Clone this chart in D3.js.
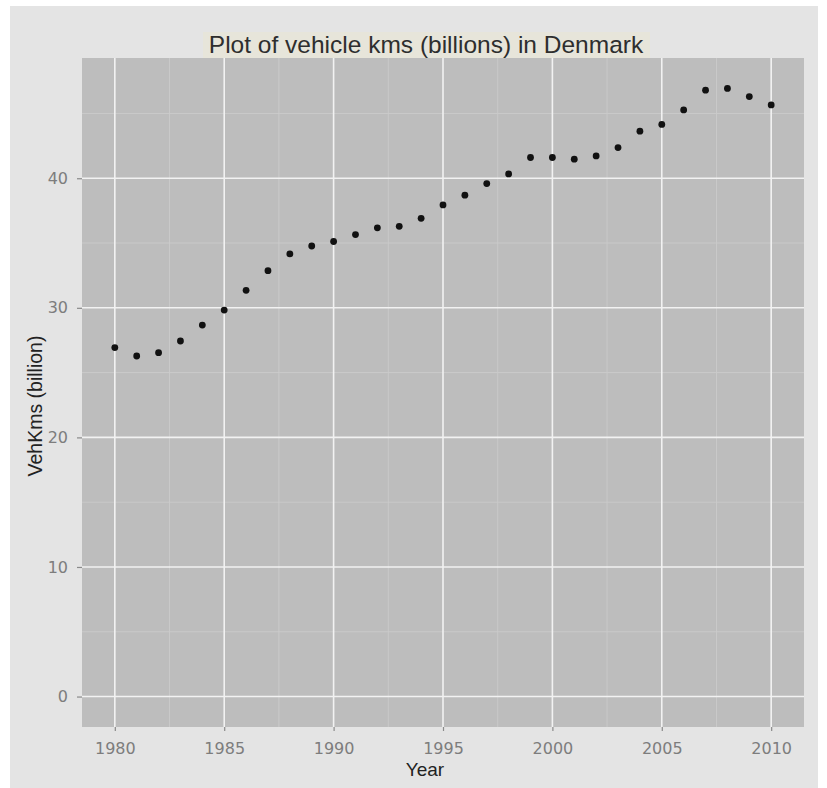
<!DOCTYPE html>
<html><head><meta charset="utf-8">
<script src="https://cdn.jsdelivr.net/npm/d3@7"></script>
<style>body{margin:0;background:#fff}svg{display:block}</style>
</head><body>
<svg id="c" width="827" height="788"></svg>
<script>
const years = [1980,1981,1982,1983,1984,1985,1986,1987,1988,1989,1990,1991,1992,1993,1994,1995,1996,1997,1998,1999,2000,2001,2002,2003,2004,2005,2006,2007,2008,2009,2010];
const vehKms = [26.93,26.28,26.54,27.44,28.67,29.83,31.35,32.87,34.16,34.77,35.12,35.65,36.17,36.29,36.91,37.94,38.69,39.59,40.33,41.6,41.6,41.47,41.72,42.37,43.63,44.15,45.27,46.8,46.93,46.3,45.66];
const xTicks = [1980,1985,1990,1995,2000,2005,2010];
const xMinor = [1982.5,1987.5,1992.5,1997.5,2002.5,2007.5];
const yTicks = [0,10,20,30,40];
const yMinor = [5,15,25,35,45];
const title = "Plot of vehicle kms (billions) in Denmark";
const xLabel = "Year";
const yLabel = "VehKms (billion)";

const svg = d3.select("#c");
const font = "'Liberation Sans', Arial, sans-serif";
const tickFont = "'DejaVu Sans', sans-serif";
const P = {l:82, r:804, t:58, b:727};

svg.append("rect").attr("x",10).attr("y",6).attr("width",808).attr("height",782).attr("fill","#e4e4e4");

const x = d3.scaleLinear().domain([1978.5, 2011.5]).range([P.l, P.r]);
const y = d3.scaleLinear().domain([-2.35, 49.28]).range([P.b, P.t]);

// title box + title
svg.append("rect").attr("x",203).attr("y",32).attr("width",447).attr("height",26).attr("fill","#e7e5da");
svg.append("text").attr("x",426).attr("y",53).attr("text-anchor","middle")
  .attr("font-family",font).attr("font-size",24.5).attr("fill","#2e2e2e").text(title);

// panel
svg.append("rect").attr("x",P.l).attr("y",P.t).attr("width",P.r-P.l).attr("height",P.b-P.t).attr("fill","#bdbdbd");

const g = svg.append("g");
g.selectAll(".ymin").data(yMinor).join("line").attr("x1",P.l).attr("x2",P.r)
  .attr("y1",d=>y(d)).attr("y2",d=>y(d)).attr("stroke","#cbcbcb").attr("stroke-width",0.9);
g.selectAll(".xmin").data(xMinor).join("line").attr("y1",P.t).attr("y2",P.b)
  .attr("x1",d=>x(d)).attr("x2",d=>x(d)).attr("stroke","#cbcbcb").attr("stroke-width",0.9);
g.selectAll(".ymaj").data(yTicks).join("line").attr("x1",P.l).attr("x2",P.r)
  .attr("y1",d=>y(d)).attr("y2",d=>y(d)).attr("stroke","#f2f2f2").attr("stroke-width",1.6);
g.selectAll(".xmaj").data(xTicks).join("line").attr("y1",P.t).attr("y2",P.b)
  .attr("x1",d=>x(d)).attr("x2",d=>x(d)).attr("stroke","#f2f2f2").attr("stroke-width",1.6);

// axes
const xAxis = svg.append("g").attr("transform",`translate(0,${P.b})`)
  .call(d3.axisBottom(x).tickValues(xTicks).tickFormat(d3.format("d")).tickSize(4).tickPadding(5));
const yAxis = svg.append("g").attr("transform",`translate(${P.l},0)`)
  .call(d3.axisLeft(y).tickValues(yTicks).tickSize(5).tickPadding(9));
[xAxis,yAxis].forEach(a=>{
  a.select(".domain").remove();
  a.selectAll("line").attr("stroke","#8a8a8a").attr("stroke-width",1.2);
  a.selectAll("text").attr("font-family",tickFont).attr("font-size",16).attr("fill","#7d7d7d");
});
xAxis.selectAll("text").attr("y",27).attr("dy",0);

// points
svg.append("g").selectAll("circle").data(years).join("circle")
  .attr("cx",(d)=>x(d)).attr("cy",(d,i)=>y(vehKms[i])).attr("r",3.4).attr("fill","#111");

// axis titles
svg.append("text").attr("x",425).attr("y",776).attr("text-anchor","middle")
  .attr("font-family",font).attr("font-size",19).attr("fill","#222").text(xLabel);
svg.append("text").attr("transform",`translate(42,406) rotate(-90)`).attr("text-anchor","middle")
  .attr("font-family",font).attr("font-size",19.5).attr("fill","#222").text(yLabel);
</script>
</body></html>
